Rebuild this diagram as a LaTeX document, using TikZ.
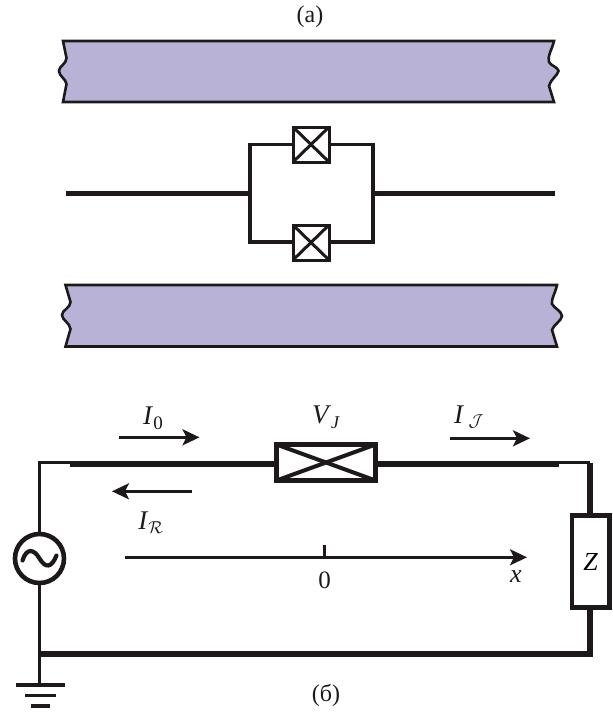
\documentclass[tikz,border=0pt]{standalone}
\usepackage{fontspec}
\setmainfont{Liberation Serif}
\usetikzlibrary{arrows.meta}
\definecolor{band}{RGB}{185,178,215}
\definecolor{ink}{RGB}{30,25,25}
\tikzset{
  bandshape/.style={draw=ink,fill=band,line width=2.6pt,line join=miter},
  wire/.style={draw=ink,line width=#1},
  wire/.default=5pt,
  jj/.style={draw=ink,fill=white,rectangle,inner sep=0pt,outer sep=0pt,line width=3pt,minimum width=36pt,minimum height=35pt},
  jjbig/.style={draw=ink,fill=white,rectangle,inner sep=0pt,outer sep=0pt,line width=5pt,minimum width=99pt,minimum height=36pt},
  zbox/.style={draw=ink,fill=white,rectangle,inner sep=0pt,outer sep=0pt,line width=4.5pt,minimum width=37.5pt,minimum height=92pt,font=\fontsize{26}{26}\selectfont\itshape},
  source/.style={draw=ink,fill=white,circle,inner sep=0pt,outer sep=0pt,line width=4.6pt,minimum size=49pt},
  current/.style={draw=ink,line width=2.8pt,-{Stealth[length=17pt,width=16pt,inset=4pt]}},
  lab/.style={inner sep=0pt,text=ink,font=\fontsize{24}{24}\selectfont},
  cur/.style={inner sep=0pt,text=ink,font=\fontsize{27}{27}\selectfont},
}
\begin{document}
\begin{tikzpicture}[x=1pt,y=-1pt]
\useasboundingbox (0,0) rectangle (613,713);

\node[lab] (capa) at (310,17) {(а)};
\node[lab] (capb) at (326,695) {(б)};

% bands
\path[bandshape] (63,41) -- (554,41)
  .. controls (552,50) and (547,56) .. (549,62)
  .. controls (551,66) and (558,67) .. (558.5,71)
  .. controls (558,75) and (550,80) .. (549,86)
  -- (554,102) -- (63,102) -- (66.5,84)
  .. controls (66,79) and (59,76) .. (59,71)
  .. controls (59,66) and (66.5,64) .. (66.5,58) -- cycle;
\path[bandshape] (65.5,285) -- (557,285)
  .. controls (555,294) and (551,299) .. (552,304)
  .. controls (554,308) and (561.5,311) .. (562,316)
  .. controls (561.5,321) and (553,325) .. (552,330)
  -- (557,346.5) -- (65.5,346.5) -- (70.5,329)
  .. controls (70,323) and (62,320) .. (62,315)
  .. controls (62,310) and (70.5,308) .. (70.5,302) -- cycle;

% SQUID
\coordinate (ml) at (66,193.5);
\coordinate (mr) at (555,193.5);
\coordinate (lt) at (250,144.5);
\coordinate (lb) at (250,242);
\coordinate (rt) at (373,144.5);
\coordinate (rb) at (373,242);
\coordinate (lm) at (250,193.5);
\coordinate (rm) at (373,193.5);
\node[jj] (j1) at (311,144.5) {};
\node[jj] (j2) at (311,242.5) {};
\draw[wire=3.4pt,line join=miter] (j1.west) -- (lt) -- (lb) -- (lb-|j2.west);
\draw[wire=3.4pt,line join=miter] (j1.east) -- (rt) -- (rb) -- (rb-|j2.east);
\draw[wire=5pt] (ml) -- (lm);
\draw[wire=5pt] (rm) -- (mr);
\foreach \j in {j1,j2}{
  \draw[wire=3pt] (\j.north west) -- (\j.south east);
  \draw[wire=3pt] (\j.north east) -- (\j.south west);
}

% circuit
\coordinate (tlc) at (39,462.6);
\coordinate (tls) at (70,464.3);
\coordinate (trs) at (559,464.3);
\coordinate (trc) at (590,462.6);
\coordinate (blc) at (39,654);
\coordinate (brc) at (590,656.7);
\coordinate (brw) at (590,654);
\coordinate (gnd) at (39,684);
\node[jjbig] (jb) at (326,462.5) {};
\node[zbox] (zz) at (590.5,561.5) {\raisebox{-1.5pt}{Z}};
\node[source] (src) at (39.5,558.5) {};
\draw[ink,line width=4.2pt,line cap=round] (22.5,560.5)
  .. controls (26.5,547.5) and (34,549) .. (39.5,558.5)
  .. controls (45.5,568.5) and (51.5,568) .. (56.5,555.5);
\draw[wire=3pt,line join=miter] (src.north-|tlc) -- (tlc) -- (tlc-|tls);
\draw[wire=3pt] (src.south-|tlc) -- (gnd);
\draw[wire=6pt] (tls) -- (tls-|jb.west);
\draw[wire=6pt] (trs-|jb.east) -- (trs);
\draw[wire=2.6pt] (trs|-trc) -- (trc);
\draw[wire=5.5pt] (trc) -- (zz.north-|trc);
\draw[wire=5.5pt] (zz.south-|brc) -- (brc);
\draw[wire=5.5pt] (blc) -- (brw);
\draw[wire=4pt] (jb.north west) -- (jb.south east);
\draw[wire=4pt] (jb.north east) -- (jb.south west);

% ground
\coordinate (g1a) at (16,684.7); \coordinate (g1b) at (65,684.7);
\coordinate (g2a) at (25,695.3); \coordinate (g2b) at (56,695.3);
\coordinate (g3a) at (31,706); \coordinate (g3b) at (50,706);
\draw[wire=3.6pt] (g1a) -- (g1b);
\draw[wire=3.6pt] (g2a) -- (g2b);
\draw[wire=3.8pt] (g3a) -- (g3b);

% currents
\coordinate (i0a) at (119,437.3); \coordinate (i0b) at (199.5,437.3);
\coordinate (ira) at (192,491.3); \coordinate (irb) at (112,491.3);
\coordinate (ija) at (450,438.3); \coordinate (ijb) at (530,438.3);
\coordinate (axa) at (125,557.3); \coordinate (axb) at (527,557.3);
\coordinate (tka) at (324.5,545); \coordinate (tkb) at (324.5,557.3);
\draw[current] (i0a) -- (i0b);
\draw[current] (ira) -- (irb);
\draw[current] (ija) -- (ijb);
\draw[current] (axa) -- (axb);
\draw[wire=2.6pt] (tka) -- (tkb);

\node[cur] (i0) at (153,418) {\textit{I}\raisebox{-5pt}{\fontsize{19}{19}\selectfont 0}};
\node[cur] (ir) at (151,523) {\textit{I}$_{\mathcal{R}}$};
\node[cur] (ij) at (469,417) {\textit{I}\,$_{\mathcal{J}}$};
\node[cur] (vj) at (326,417) {\textit{V}\raisebox{-5pt}{\fontsize{18}{18}\selectfont\textit{J}}};
\node[lab,font=\fontsize{25}{25}\selectfont] (zero) at (324.5,580) {0};
\node[lab,font=\fontsize{26}{26}\selectfont\itshape] (xl) at (516,577) {x};
\end{tikzpicture}
\end{document}
